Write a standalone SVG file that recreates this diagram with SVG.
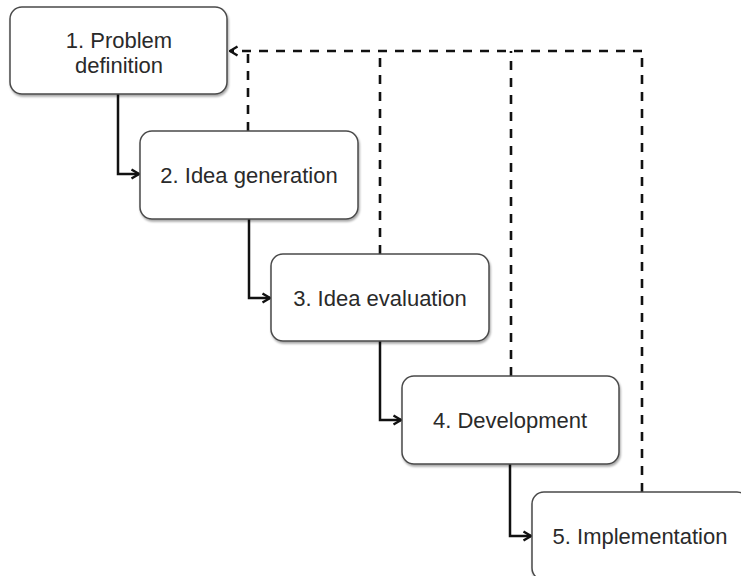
<svg xmlns="http://www.w3.org/2000/svg" width="741" height="576" viewBox="0 0 741 576">
  <style>
    .box { fill: #ffffff; stroke: #4a4a4a; stroke-width: 1.5; filter: url(#shadow); }
    .label { font-family: "Liberation Sans", Arial, sans-serif; font-size: 22px; fill: #2a2a2a; text-anchor: middle; }
    .flow { fill: none; stroke: #111111; stroke-width: 2.5; marker-end: url(#arrow); }
    .back { fill: none; stroke: #111111; stroke-width: 2.6; stroke-dasharray: 9 8; }
  </style>
  <defs>
    <filter id="shadow" x="-10%" y="-10%" width="120%" height="130%">
      <feDropShadow dx="1" dy="2" stdDeviation="1.2" flood-color="#000000" flood-opacity="0.35"/>
    </filter>
    <marker id="arrow" viewBox="0 0 12 12" refX="10.5" refY="6" markerWidth="12" markerHeight="12" markerUnits="userSpaceOnUse" orient="auto">
      <path d="M3 1.5 L10.5 6 L3 10.5" fill="none" stroke="#111111" stroke-width="2.4"/>
    </marker>
  </defs>

  <rect width="741" height="576" fill="#ffffff"/>

  <!-- connectors -->
  <g id="connectors">
    <path class="flow" d="M118 94 V174 H139"/>
    <path class="flow" d="M249 219 V298 H270"/>
    <path class="flow" d="M380 341 V420 H401"/>
    <path class="flow" d="M510 464 V536 H531"/>

    <!-- feedback loops back to problem definition -->
    <path class="back" d="M248 131 V51"/>
    <path class="back" d="M380 254 V51"/>
    <path class="back" d="M511 376 V51"/>
    <path class="back" d="M642 492 V51"/>
    <path class="back" d="M642 51 H230" marker-end="url(#arrow)"/>
  </g>

  <g id="node1">
    <rect class="box" x="10" y="7" width="217" height="87" rx="12"/>
    <text class="label" x="119" y="48">1. Problem</text>
    <text class="label" x="119" y="73">definition</text>
  </g>
  <g id="node2">
    <rect class="box" x="140" y="131" width="218" height="88" rx="12"/>
    <text class="label" x="249" y="183">2. Idea generation</text>
  </g>
  <g id="node3">
    <rect class="box" x="271" y="254" width="218" height="87" rx="12"/>
    <text class="label" x="380" y="306">3. Idea evaluation</text>
  </g>
  <g id="node4">
    <rect class="box" x="402" y="376" width="217" height="88" rx="12"/>
    <text class="label" x="510" y="428">4. Development</text>
  </g>
  <g id="node5">
    <rect class="box" x="532" y="492" width="217" height="88" rx="12"/>
    <text class="label" x="640" y="544">5. Implementation</text>
  </g>
</svg>
